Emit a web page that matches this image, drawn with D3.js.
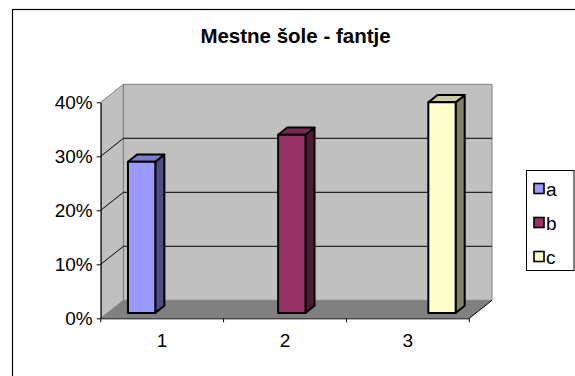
<!DOCTYPE html>
<html>
<head>
<meta charset="utf-8">
<script src="https://cdn.jsdelivr.net/npm/d3@7"></script>
<style>
  html, body { margin: 0; padding: 0; background: #fff; }
  svg { display: block; font-family: "Liberation Sans", Arial, sans-serif; }
</style>
</head>
<body>
<svg id="chart" width="575" height="376"></svg>
<script>
// Categories, series and their values (share of boys, per local school)
const categories = ["1", "2", "3"];
const seriesNames = ["a", "b", "c"];
const valuesA = [0.28, null, null];
const valuesB = [null, 0.33, null];
const valuesC = [null, null, 0.39];
const yTicks = [0, 0.1, 0.2, 0.3, 0.4];
const titleText = "Mestne šole - fantje";

const seriesValues = [valuesA, valuesB, valuesC];
const faceColors = {
  a: { front: "#9999FF", top: "#7B7BD0", side: "#4D4D80" },
  b: { front: "#993366", top: "#7A2952", side: "#4D1A33" },
  c: { front: "#FFFFCC", top: "#CCCCA3", side: "#808066" }
};

const svg = d3.select("#chart");
const labelSize = 19;

// Plot geometry: front floor edge, value range and the 3D depth vector
const left = 100.7, right = 469.3, floorY = 318.3, topY = 102.3;
const DX = 22.7, DY = -18;           // full depth of the walls
const d0 = 0.3, d1 = 0.7;            // bars occupy the middle of the depth

const x0 = d3.scaleBand().domain(categories).range([left, right]);
const x1 = d3.scaleBand().domain(seriesNames).range([0, x0.bandwidth()])
  .paddingInner(0).paddingOuter(0.75);
const y = d3.scaleLinear().domain([0, 0.4]).range([floorY, topY]);

// Outer chart-area border
svg.append("rect").attr("x", 12.5).attr("y", 9.5).attr("width", 620).attr("height", 400)
  .attr("fill", "none").attr("stroke", "#000").attr("stroke-width", 1.2);

// Title
svg.append("text").attr("x", 295.5).attr("y", 42.5)
  .attr("text-anchor", "middle").attr("font-weight", "bold").attr("font-size", 20.5)
  .text(titleText);

const yMax = y.domain()[1];
const pt = (x, yy) => x + "," + yy;

// Side wall (left)
svg.append("polygon")
  .attr("points", [pt(left, y(0)), pt(left, y(yMax)), pt(left + DX, y(yMax) + DY), pt(left + DX, y(0) + DY)].join(" "))
  .attr("fill", "#C0C0C0").attr("stroke", "#808080").attr("stroke-width", 1);
// Back wall
svg.append("polygon")
  .attr("points", [pt(left + DX, y(0) + DY), pt(left + DX, y(yMax) + DY), pt(right + DX, y(yMax) + DY), pt(right + DX, y(0) + DY)].join(" "))
  .attr("fill", "#C0C0C0").attr("stroke", "#808080").attr("stroke-width", 1);
// Floor
svg.append("polygon")
  .attr("points", [pt(left, y(0)), pt(right, y(0)), pt(right + DX, y(0) + DY), pt(left + DX, y(0) + DY)].join(" "))
  .attr("fill", "#808080").attr("stroke", "none");
svg.append("line")
  .attr("x1", right).attr("y1", y(0)).attr("x2", right + DX).attr("y2", y(0) + DY)
  .attr("stroke", "#000").attr("stroke-width", 1);

// Gridlines on the side and back walls
const grid = yTicks.filter(t => t > 0 && t < yMax);
svg.append("g").selectAll("path").data(grid).join("path")
  .attr("d", t => `M${left},${y(t)}L${left + DX},${y(t) + DY}L${right + DX},${y(t) + DY}`)
  .attr("fill", "none").attr("stroke", "#000").attr("stroke-width", 1);

// Bars: front, top and side faces
const bars = [];
seriesNames.forEach((s, si) => {
  seriesValues[si].forEach((v, ci) => {
    if (v != null) bars.push({ s, cat: categories[ci], v });
  });
});
const ox = d0 * DX, oy = d0 * DY;
const bx = (d1 - d0) * DX, by = (d1 - d0) * DY;
const barG = svg.append("g").attr("stroke", "#000").attr("stroke-width", 2).attr("stroke-linejoin", "round");
bars.forEach(b => {
  const xl = x0(b.cat) + x1(b.s) + ox, xr = xl + x1.bandwidth();
  const yb = y(0) + oy, yt = y(b.v) + oy;
  const col = faceColors[b.s];
  barG.append("polygon")
    .attr("points", [pt(xr, yb), pt(xr, yt), pt(xr + bx, yt + by), pt(xr + bx, yb + by)].join(" "))
    .attr("fill", col.side);
  barG.append("polygon")
    .attr("points", [pt(xl, yt), pt(xr, yt), pt(xr + bx, yt + by), pt(xl + bx, yt + by)].join(" "))
    .attr("fill", col.top);
  barG.append("rect")
    .attr("x", xl).attr("y", yt).attr("width", xr - xl).attr("height", yb - yt)
    .attr("fill", col.front);
});

// Value axis
const yAxis = d3.axisLeft(y).tickValues(yTicks).tickFormat(d3.format(".0%"))
  .tickSize(4).tickSizeOuter(0).tickPadding(4);
const gy = svg.append("g").attr("transform", `translate(${left},0)`).call(yAxis);
gy.select(".domain").attr("stroke", "#000");
gy.selectAll("text").attr("font-size", labelSize).attr("font-family", "Liberation Sans, Arial, sans-serif")
  .attr("fill", "#000");

// Category axis: line, ticks at the band boundaries, labels at band centres
const gx = svg.append("g").attr("transform", `translate(0,${floorY})`)
  .call(d3.axisBottom(x0).tickSize(0).tickPadding(15));
gx.select(".domain").attr("stroke", "#000");
gx.selectAll("text").attr("font-size", labelSize).attr("font-family", "Liberation Sans, Arial, sans-serif")
  .attr("fill", "#000");
const bounds = categories.map(c => x0(c)).concat([x0.range()[1]]);
gx.append("g").selectAll("line").data(bounds).join("line")
  .attr("x1", d => d).attr("x2", d => d).attr("y1", 0).attr("y2", 4)
  .attr("stroke", "#000");

// Legend
const lg = svg.append("g").attr("transform", "translate(526.5,170.5)");
lg.append("rect").attr("width", 47.5).attr("height", 100)
  .attr("fill", "#fff").attr("stroke", "#000").attr("stroke-width", 1);
const item = lg.selectAll("g.item").data(seriesNames).join("g").attr("class", "item")
  .attr("transform", (d, i) => `translate(7.5,${18 + i * 34})`);
item.append("rect").attr("x", 0).attr("y", -5).attr("width", 10).attr("height", 10)
  .attr("fill", d => faceColors[d].front).attr("stroke", "#000").attr("stroke-width", 1.6);
item.append("text").attr("x", 12).attr("y", 7).attr("font-size", labelSize).text(d => d);
</script>
</body>
</html>
